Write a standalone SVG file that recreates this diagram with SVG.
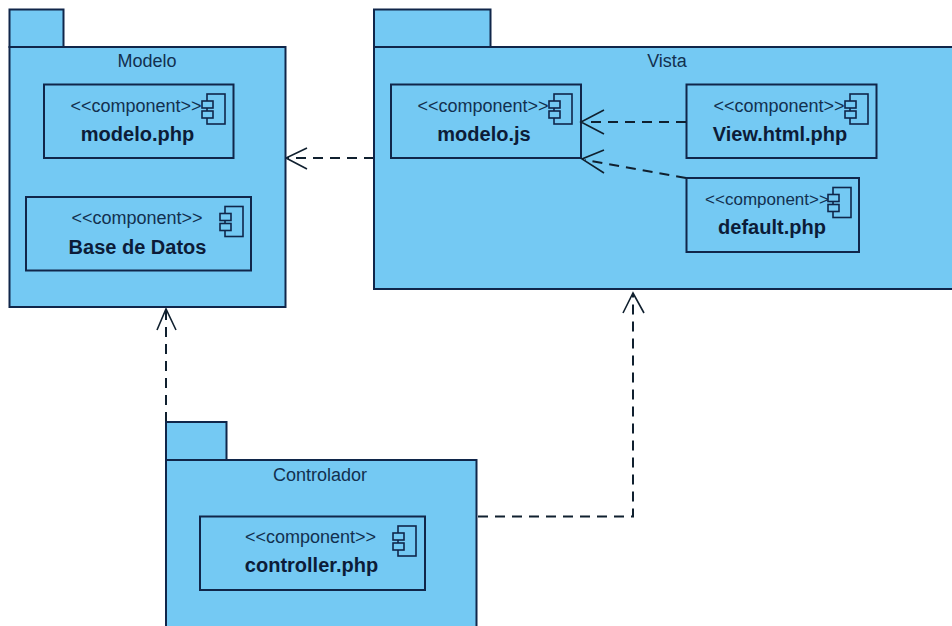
<svg xmlns="http://www.w3.org/2000/svg" width="952" height="626" viewBox="0 0 952 626">
<style>
.p{fill:#74c9f3;stroke:#10264a;stroke-width:2}
.c{fill:#74c9f3;stroke:#10264a;stroke-width:2}
.i{fill:#74c9f3;stroke:#10264a;stroke-width:1.6}
.n{font-family:"Liberation Sans",Arial,sans-serif;font-size:18px;fill:#12304f;text-anchor:middle}
.s{font-family:"Liberation Sans",Arial,sans-serif;font-size:18px;fill:#12304f;text-anchor:middle}
.b{font-family:"Liberation Sans",Arial,sans-serif;font-size:20px;font-weight:bold;fill:#0c1c38;text-anchor:middle}
.d{fill:none;stroke:#10202f;stroke-width:2;stroke-dasharray:10 7}
.a{fill:none;stroke:#10202f;stroke-width:1.6}
</style>
<defs>
<g id="icon"><rect class="i" x="5" y="0" width="18" height="30"/><rect class="i" x="0" y="7" width="11" height="7"/><rect class="i" x="0" y="17" width="11" height="7"/></g>
</defs>
<rect width="952" height="626" fill="#fff"/>
<g id="connectors">
<path class="d" d="M374 158H288"/><path class="a" d="M307 148L286 158L307 169"/>
<path class="d" d="M166 422V311"/><path class="a" d="M157 330L166 309L176 330"/>
<path class="d" d="M478 516.5H633V295"/><path class="a" d="M623 313L633 293L644 313"/>
</g>
<g id="modelo">
<rect class="p" x="9.5" y="9.5" width="54" height="37.5"/><rect class="p" x="9.5" y="47" width="276" height="260"/>
<text class="n" x="147" y="67">Modelo</text>
<g id="modelo-php"><rect class="c" x="44" y="84.5" width="189.5" height="73.5"/><text class="s" x="136" y="112">&lt;&lt;component&gt;&gt;</text><text class="b" x="137.500" y="141">modelo.php</text><use href="#icon" x="202" y="94"/></g>
<g id="base-datos"><rect class="c" x="26" y="197" width="225" height="73.5"/><text class="s" x="137" y="224">&lt;&lt;component&gt;&gt;</text><text class="b" x="137.500" y="254">Base de Datos</text><use href="#icon" x="220" y="206.500"/></g>
</g>
<g id="vista">
<rect class="p" x="374" y="9.500" width="116.500" height="37.500"/><rect class="p" x="374" y="47" width="590" height="242"/>
<text class="n" x="667" y="67">Vista</text>
<g id="modelo-js"><rect class="c" x="391" y="84.500" width="190" height="73.500"/><text class="s" x="483" y="112">&lt;&lt;component&gt;&gt;</text><text class="b" x="484" y="141">modelo.js</text><use href="#icon" x="549" y="94"/></g>
<g id="view-html"><rect class="c" x="686.500" y="84.500" width="190" height="73.500"/><text class="s" x="779" y="112">&lt;&lt;component&gt;&gt;</text><text class="b" x="780" y="141">View.html.php</text><use href="#icon" x="845" y="94"/></g>
<g id="default-php"><rect class="c" x="686.500" y="178" width="172.500" height="74"/><text class="s" x="767" y="205" style="font-size:17px">&lt;&lt;component&gt;&gt;</text><text class="b" x="772" y="234">default.php</text><use href="#icon" x="828" y="187.500"/></g>
<g id="vista-connectors"><path class="d" d="M686 122H584"/><path class="a" d="M604 110L581 122L604 134"/><path class="d" d="M686 178L585 160"/><path class="a" d="M604 150L582 159L604 173"/></g>
</g>
<g id="controlador">
<rect class="p" x="166" y="422" width="60.500" height="38"/><rect class="p" x="166" y="460" width="310.500" height="180"/>
<text class="n" x="320" y="481">Controlador</text>
<g id="controller-php"><rect class="c" x="200" y="516.500" width="225" height="73.500"/><text class="s" x="310.500" y="543">&lt;&lt;component&gt;&gt;</text><text class="b" x="311.500" y="572">controller.php</text><use href="#icon" x="393" y="526"/></g>
</g>
</svg>
